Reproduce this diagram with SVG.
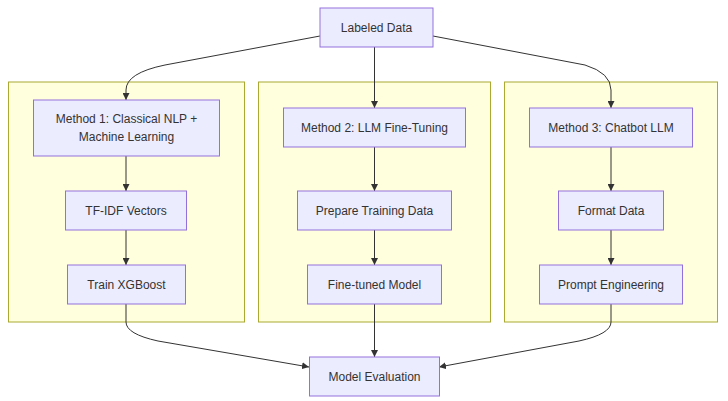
<svg xmlns="http://www.w3.org/2000/svg" width="728" height="401" viewBox="0 0 728 401">
<style>
.cluster rect{fill:#ffffde;stroke:#aaaa33;stroke-width:1}
.node rect{fill:#ececff;stroke:#9370db;stroke-width:1}
text{font-family:"Liberation Sans",Arial,sans-serif;font-size:12px;fill:#333;text-anchor:middle;dominant-baseline:central}
.edges path{fill:none;stroke:#333;stroke-width:1}
</style>
<defs>
<marker id="arr" viewBox="0 0 10 10" refX="10" refY="5" markerWidth="7" markerHeight="7" markerUnits="userSpaceOnUse" orient="auto">
<path d="M0,0 L10,5 L0,10 z" fill="#333"/>
</marker>
</defs>
<rect width="728" height="401" fill="#ffffff"/>
<g class="cluster" id="cluster1"><rect x="8.5" y="82" width="236" height="240"/></g>
<g class="cluster" id="cluster2"><rect x="258.5" y="82" width="232" height="240"/></g>
<g class="cluster" id="cluster3"><rect x="504.5" y="82" width="213" height="240"/></g>
<g class="edges" id="edges">
<path d="M320,36 L165,65 Q126,73 126,90 L126,100" marker-end="url(#arr)"/>
<path d="M374.5,47 L374.5,108" marker-end="url(#arr)"/>
<path d="M433,36 L585,65 Q611,73 611,90 L611,108" marker-end="url(#arr)"/>
<path d="M126,156 L126,191" marker-end="url(#arr)"/>
<path d="M374.5,147 L374.5,191" marker-end="url(#arr)"/>
<path d="M611,147 L611,191" marker-end="url(#arr)"/>
<path d="M126,230 L126,265" marker-end="url(#arr)"/>
<path d="M374.5,230 L374.5,265" marker-end="url(#arr)"/>
<path d="M611,230 L611,265" marker-end="url(#arr)"/>
<path d="M126,304 L126,322 Q126,334 158,341 L309,367" marker-end="url(#arr)"/>
<path d="M374.5,304 L374.5,357" marker-end="url(#arr)"/>
<path d="M611,304 L611,322 Q611,334 579,341 L439,367" marker-end="url(#arr)"/>
</g>
<g class="node" id="labeled"><rect x="320" y="8" width="113" height="39"/><text x="376.5" y="27.5">Labeled Data</text></g>
<g class="node" id="m1"><rect x="33.5" y="100" width="186" height="56"/><text x="126.5" y="119">Method 1: Classical NLP +</text><text x="126.5" y="137">Machine Learning</text></g>
<g class="node" id="m2"><rect x="283.5" y="108" width="182" height="39"/><text x="374.5" y="127.5">Method 2: LLM Fine-Tuning</text></g>
<g class="node" id="m3"><rect x="529.5" y="108" width="163" height="39"/><text x="611" y="127.5">Method 3: Chatbot LLM</text></g>
<g class="node" id="tfidf"><rect x="65.5" y="191" width="121" height="39"/><text x="126" y="210.5">TF-IDF Vectors</text></g>
<g class="node" id="prep"><rect x="297.5" y="191" width="154" height="39"/><text x="374.5" y="210.5">Prepare Training Data</text></g>
<g class="node" id="format"><rect x="558.5" y="191" width="105" height="39"/><text x="611" y="210.5">Format Data</text></g>
<g class="node" id="xgb"><rect x="67.5" y="265" width="118" height="39"/><text x="126.5" y="284.5">Train XGBoost</text></g>
<g class="node" id="ft"><rect x="307.5" y="265" width="134" height="39"/><text x="374.5" y="284.5">Fine-tuned Model</text></g>
<g class="node" id="prompt"><rect x="539.5" y="265" width="143" height="39"/><text x="611" y="284.5">Prompt Engineering</text></g>
<g class="node" id="eval"><rect x="309.5" y="357" width="130" height="39"/><text x="374.5" y="376.5">Model Evaluation</text></g>
</svg>
